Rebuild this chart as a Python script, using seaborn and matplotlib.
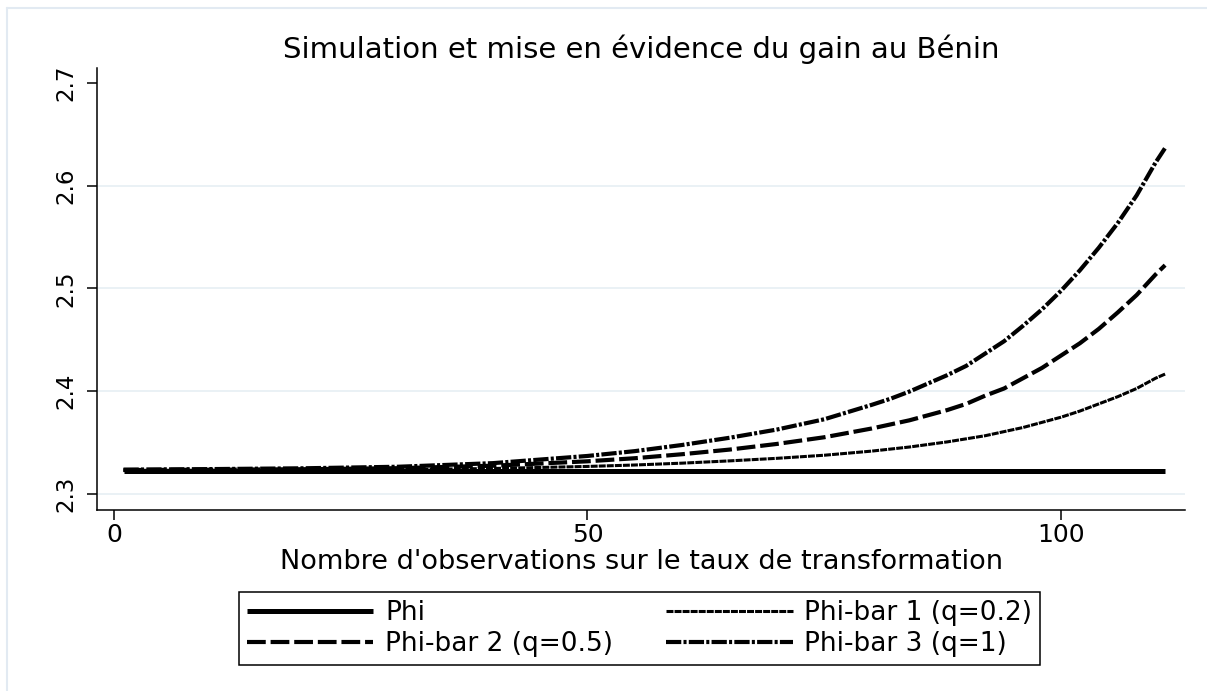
import numpy as np
import pandas as pd
import matplotlib
matplotlib.use("Agg")
import matplotlib.pyplot as plt
from matplotlib.lines import Line2D
import seaborn as sns

# ---- data ----
n_obs = [1, 10, 20, 30, 40, 50, 55, 60, 65, 70, 75,
         80, 82, 84, 86, 88, 90, 92, 94, 96, 98, 100, 102, 104, 106, 108, 110, 111]
phi = [2.3227] * len(n_obs)
phi_bar1 = [2.3230, 2.3231, 2.3233, 2.3237, 2.3248, 2.3268, 2.3282, 2.3300, 2.3322, 2.3347, 2.3377,
            2.3417, 2.3437, 2.3457, 2.3482, 2.3507, 2.3537, 2.3567, 2.3607, 2.3647, 2.3697,
            2.3747, 2.3807, 2.3877, 2.3947, 2.4027, 2.4127, 2.4167]
phi_bar2 = [2.3233, 2.3236, 2.3241, 2.3251, 2.3275, 2.3318, 2.3348, 2.3387, 2.3432, 2.3487, 2.3552,
            2.3637, 2.3677, 2.3717, 2.3767, 2.3817, 2.3877, 2.3957, 2.4027, 2.4127, 2.4227,
            2.4347, 2.4467, 2.4607, 2.4767, 2.4937, 2.5137, 2.5227]
phi_bar3 = [2.3237, 2.3242, 2.3250, 2.3265, 2.3300, 2.3370, 2.3417, 2.3477, 2.3547, 2.3627, 2.3727,
            2.3867, 2.3927, 2.3997, 2.4077, 2.4157, 2.4247, 2.4367, 2.4487, 2.4637, 2.4797,
            2.4977, 2.5177, 2.5397, 2.5637, 2.5907, 2.6227, 2.6367]
series_labels = ["Phi", "Phi-bar 1 (q=0.2)", "Phi-bar 2 (q=0.5)", "Phi-bar 3 (q=1)"]
x_ticks = [0, 50, 100]
y_ticks = [2.3, 2.4, 2.5, 2.6, 2.7]
title = "Simulation et mise en évidence du gain au Bénin"
x_label = "Nombre d'observations sur le taux de transformation"

sns.set_style("white")
plt.rcParams["font.family"] = ["DejaVu Sans"]
plt.rcParams["lines.scale_dashes"] = False
plt.rcParams["text.color"] = "black"
plt.rcParams["axes.labelcolor"] = "black"
plt.rcParams["xtick.color"] = "black"
plt.rcParams["ytick.color"] = "black"

W, H = 1207, 691
fig = plt.figure(figsize=(W / 100, H / 100), dpi=100)
fig.patch.set_facecolor("white")
ax = fig.add_axes([97 / W, 1 - 510 / H, (1185 - 97) / W, (510 - 68) / H])
ax.set_facecolor("white")

# outer light frame
fig.add_artist(Line2D([7 / W, 7 / W], [0, 1 - 8 / H], transform=fig.transFigure,
                      color="#e2eaf2", lw=1.5))
fig.add_artist(Line2D([7 / W, 1], [1 - 8 / H, 1 - 8 / H], transform=fig.transFigure,
                      color="#e2eaf2", lw=1.5))

# gridlines
for yv in y_ticks[:-1]:
    ax.axhline(yv, color="#e8f0f4", lw=1.3, zorder=0)

styles = [
    dict(linewidth=3.6, linestyle="solid"),
    dict(linewidth=2.2, linestyle=(0, (5.0, 0.8))),
    dict(linewidth=3.0, linestyle=(0, (13.5, 3.5))),
    dict(linewidth=3.0, linestyle=(0, (11.0, 1.6, 2.2, 1.6))),
]
all_series = [phi, phi_bar1, phi_bar2, phi_bar3]
for vals, lab, st in zip(all_series, series_labels, styles):
    df = pd.DataFrame({"n": n_obs, "v": vals})
    sns.lineplot(data=df, x="n", y="v", ax=ax, color="black", label=lab,
                 solid_capstyle="butt", dash_capstyle="butt", **st)
    ax.lines[-1].set_linestyle(st["linestyle"])
    ax.lines[-1].set_linewidth(st["linewidth"])

ax.set_xlim(-1.8, 113.1)
ax.set_ylim(2.2844, 2.7146)
ax.set_xticks(x_ticks)
ax.set_yticks(y_ticks)
ax.set_xticklabels([str(t) for t in x_ticks], fontsize=18, color="black")
ax.set_yticklabels([f"{t:.1f}" for t in y_ticks], fontsize=16.5, rotation=90, va="center",
                   color="black")
ax.tick_params(axis="both", direction="out", length=7.2, width=1.1, color="black",
               left=True, bottom=True)
ax.tick_params(axis="y", pad=7)
ax.tick_params(axis="x", pad=2.5)
for s in ["top", "right"]:
    ax.spines[s].set_visible(False)
for s in ["left", "bottom"]:
    ax.spines[s].set_color("black")
    ax.spines[s].set_linewidth(1.1)

ax.set_xlabel(x_label, fontsize=19.5, labelpad=1, color="black")
ax.set_ylabel("")
ax.set_title(title, fontsize=21, pad=7, color="black")

handles, labels = ax.get_legend_handles_labels()
ax.get_legend().remove()
order = [0, 2, 1, 3]
leg = fig.legend([handles[i] for i in order], [labels[i] for i in order],
                 loc="center", bbox_to_anchor=(639.5 / W, 1 - 628.5 / H), ncol=2,
                 fontsize=19, frameon=True, fancybox=False, shadow=False, framealpha=1,
                 handlelength=4.8, handletextpad=0.45, columnspacing=2.0,
                 labelspacing=0.2, borderpad=0.3, borderaxespad=0)
leg.get_frame().set_edgecolor("black")
leg.get_frame().set_linewidth(1.1)
for t in leg.get_texts():
    t.set_color("black")

fig.savefig("out.png", dpi=100, facecolor="white")
